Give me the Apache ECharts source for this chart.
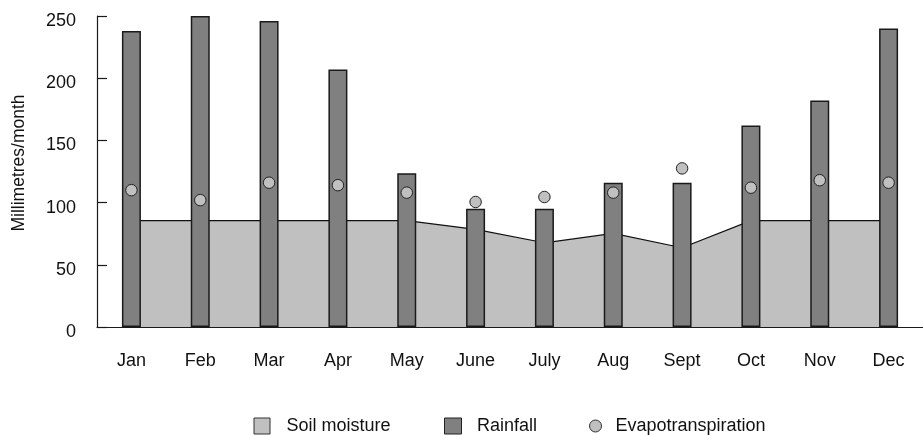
<!DOCTYPE html>
<html>
<head>
<meta charset="utf-8">
<script src="https://cdn.jsdelivr.net/npm/echarts@6/dist/echarts.min.js"></script>
<style>
html,body{margin:0;padding:0;background:#fff;}
#chart{width:923px;height:435px;}
</style>
</head>
<body>
<div id="chart"></div>
<script>
const months = ['Jan','Feb','Mar','Apr','May','June','July','Aug','Sept','Oct','Nov','Dec'];
const soilMoisture = [85.5,85.5,85.5,85.5,85.5,78.5,67.7,75.2,63.7,85.5,85.5,85.5];
const rainfall = [238,250,246,207,123.5,95,95,116,116,162,182,240];
const evapotranspiration = [110,102,116,114,108,100.5,104.5,108,127.5,112,118,116];
const yTicks = [0,50,100,150,200,250];

const FONT = 'Liberation Sans, Arial, Helvetica, sans-serif';
const FS = 18;
const legendText = (padLeft) => ({color:'#111', fontFamily:FONT, fontSize:FS, padding:[0,0,0,padLeft]});
const chart = echarts.init(document.getElementById('chart'), null, {renderer:'canvas'});
chart.setOption({
  animation:false,
  backgroundColor:'#fff',
  grid:{left:97, right:-5, top:16, bottom:108, containLabel:false},
  xAxis:{
    type:'category', data:months, boundaryGap:true,
    axisLine:{lineStyle:{color:'#1a1a1a', width:1.2}},
    axisTick:{inside:true, length:9, lineStyle:{color:'#1a1a1a', width:1.2}},
    axisLabel:{margin:25, color:'#111', fontFamily:FONT, fontSize:FS},
    splitLine:{show:false}
  },
  yAxis:{
    type:'value', min:yTicks[0], max:yTicks[yTicks.length-1], interval:50,
    axisLine:{show:true, lineStyle:{color:'#1a1a1a', width:1.2}},
    axisTick:{show:true, inside:true, length:10, lineStyle:{color:'#1a1a1a', width:1.2}},
    axisLabel:{
      margin:21, color:'#111', fontFamily:FONT, fontSize:FS,
      formatter:'{v|{value}}',
      rich:{v:{color:'#111', fontFamily:FONT, fontSize:FS, padding:[10,0,0,0]}}
    },
    splitLine:{show:false}
  },
  legend:[{
    left:253.5, top:417, padding:0, itemWidth:16, itemHeight:16,
    textStyle:legendText(11.5),
    data:[{name:'Soil moisture', icon:'rect', itemStyle:{color:'#c0c0c0', borderColor:'#333', borderWidth:1}}]
  },{
    left:444, top:417, padding:0, itemWidth:17, itemHeight:16,
    textStyle:legendText(10.5),
    data:[{name:'Rainfall', icon:'rect', itemStyle:{color:'#808080', borderColor:'#222', borderWidth:1}}]
  },{
    left:589, top:417, padding:0, itemWidth:12, itemHeight:16,
    textStyle:legendText(9),
    data:[{name:'Evapotranspiration', icon:'circle', itemStyle:{color:'#c0c0c0', borderColor:'#333', borderWidth:1}}]
  }],
  series:[
    {
      name:'Soil moisture', type:'line', data:soilMoisture, symbol:'none', z:1,
      lineStyle:{color:'#111', width:1.2},
      itemStyle:{color:'#c0c0c0'},
      areaStyle:{color:'#c0c0c0', opacity:1}
    },
    {
      name:'Rainfall', type:'bar', data:rainfall, barWidth:19, z:2,
      itemStyle:{color:'#808080', borderColor:'#1a1a1a', borderWidth:1.5}
    },
    {
      name:'Evapotranspiration', type:'scatter', data:evapotranspiration, symbol:'circle', symbolSize:11.5, z:3,
      itemStyle:{color:'#c0c0c0', borderColor:'#222', borderWidth:1, opacity:1}
    }
  ],
  graphic:[{
    type:'text', x:19, y:163, rotation:Math.PI/2,
    style:{text:'Millimetres/month', fill:'#111', font:'17.5px '+FONT, align:'center', verticalAlign:'middle'}
  }]
});
</script>
</body>
</html>
